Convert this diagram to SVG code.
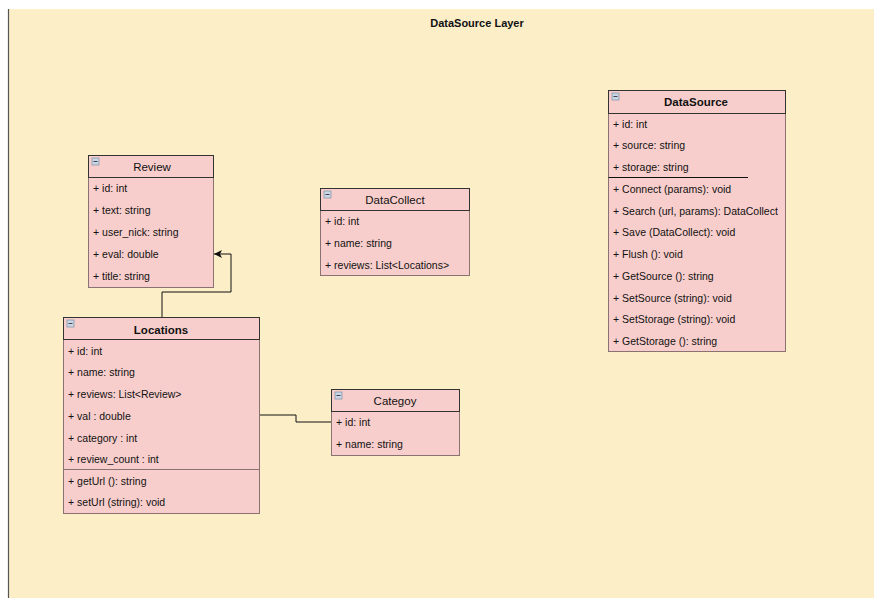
<svg xmlns="http://www.w3.org/2000/svg" width="874" height="598" viewBox="0 0 874 598">
<style>
text{font-family:"Liberation Sans",Arial,sans-serif;fill:#111}
.row{font-size:10.5px}
.hd{font-size:11.5px;text-anchor:middle}
.b{font-weight:bold}
.box{fill:#f8cecc;stroke:#8a7272;stroke-width:1}
.hdr{fill:#f8cecc;stroke:#333;stroke-width:1}
.sep{stroke:#8a7272;stroke-width:1}
.conn{fill:none;stroke:#111;stroke-width:1}
</style>
<defs>
<g id="icon"><rect x="0" y="0" width="7" height="7" fill="#c9d6e6" stroke="#8899aa" stroke-width="0.8"/><line x1="1.5" y1="3.5" x2="5.5" y2="3.5" stroke="#445" stroke-width="1"/></g>
<marker id="arr" markerWidth="10" markerHeight="10" refX="8" refY="4" orient="auto" markerUnits="userSpaceOnUse"><path d="M0,0 L8,4 L0,8 L2,4 Z" fill="#111"/></marker>
</defs>
<rect x="0" y="0" width="874" height="598" fill="#fff"/>
<rect x="8" y="9" width="866" height="589" fill="#fcefc8"/>
<line x1="8.5" y1="9" x2="8.5" y2="598" stroke="#555" stroke-width="1.2"/>
<text x="477" y="27" class="b" style="font-size:11px" text-anchor="middle">DataSource Layer</text>

<g id="connectors">
<path class="conn" d="M162,317 V292 H231 V254 H214" marker-end="url(#arr)"/>
<path class="conn" d="M260,415 H296 V422 H331"/>
</g>

<g id="Review">
<rect class="box" x="88.5" y="155.5" width="125" height="132"/>
<rect class="hdr" x="88.5" y="155.5" width="125" height="22"/>
<use href="#icon" x="92" y="158"/>
<text class="hd" x="152" y="171">Review</text>
<text class="row" x="93" y="192">+ id: int</text>
<text class="row" x="93" y="214">+ text: string</text>
<text class="row" x="93" y="236">+ user_nick: string</text>
<text class="row" x="93" y="258">+ eval: double</text>
<text class="row" x="93" y="280">+ title: string</text>
</g>

<g id="Locations">
<rect class="box" x="63.5" y="317.5" width="196" height="196"/>
<rect class="hdr" x="63.5" y="317.5" width="196" height="22"/>
<use href="#icon" x="67" y="320"/>
<text class="hd b" x="161" y="334">Locations</text>
<text class="row" x="68" y="355">+ id: int</text>
<text class="row" x="68" y="376">+ name: string</text>
<text class="row" x="68" y="398">+ reviews: List&lt;Review&gt;</text>
<text class="row" x="68" y="420">+ val : double</text>
<text class="row" x="68" y="442">+ category : int</text>
<text class="row" x="68" y="463">+ review_count : int</text>
<line class="sep" x1="63.5" y1="469.5" x2="259.5" y2="469.5"/>
<text class="row" x="68" y="485">+ getUrl (): string</text>
<text class="row" x="68" y="506">+ setUrl (string): void</text>
</g>

<g id="DataCollect">
<rect class="box" x="320.5" y="188.5" width="149" height="87"/>
<rect class="hdr" x="320.5" y="188.5" width="149" height="22"/>
<use href="#icon" x="324" y="191"/>
<text class="hd" x="395" y="204">DataCollect</text>
<text class="row" x="325" y="225">+ id: int</text>
<text class="row" x="325" y="247">+ name: string</text>
<text class="row" x="325" y="269">+ reviews: List&lt;Locations&gt;</text>
</g>

<g id="Categoy">
<rect class="box" x="331.5" y="389.5" width="128" height="66"/>
<rect class="hdr" x="331.5" y="389.5" width="128" height="22"/>
<use href="#icon" x="335" y="392"/>
<text class="hd" x="395" y="405">Categoy</text>
<text class="row" x="336" y="426">+ id: int</text>
<text class="row" x="336" y="448">+ name: string</text>
</g>

<g id="DataSource">
<rect class="box" x="608.5" y="90.5" width="177" height="261"/>
<rect class="hdr" x="608.5" y="90.5" width="177" height="23"/>
<use href="#icon" x="612" y="93"/>
<text class="hd b" x="696" y="106">DataSource</text>
<text class="row" x="613" y="128">+ id: int</text>
<text class="row" x="613" y="149">+ source: string</text>
<text class="row" x="613" y="171">+ storage: string</text>
<line x1="608.5" y1="177.5" x2="748" y2="177.5" stroke="#111" stroke-width="1"/>
<text class="row" x="613" y="193">+ Connect (params): void</text>
<text class="row" x="613" y="215">+ Search (url, params): DataCollect</text>
<text class="row" x="613" y="236">+ Save (DataCollect): void</text>
<text class="row" x="613" y="258">+ Flush (): void</text>
<text class="row" x="613" y="280">+ GetSource (): string</text>
<text class="row" x="613" y="302">+ SetSource (string): void</text>
<text class="row" x="613" y="323">+ SetStorage (string): void</text>
<text class="row" x="613" y="345">+ GetStorage (): string</text>
</g>
</svg>
